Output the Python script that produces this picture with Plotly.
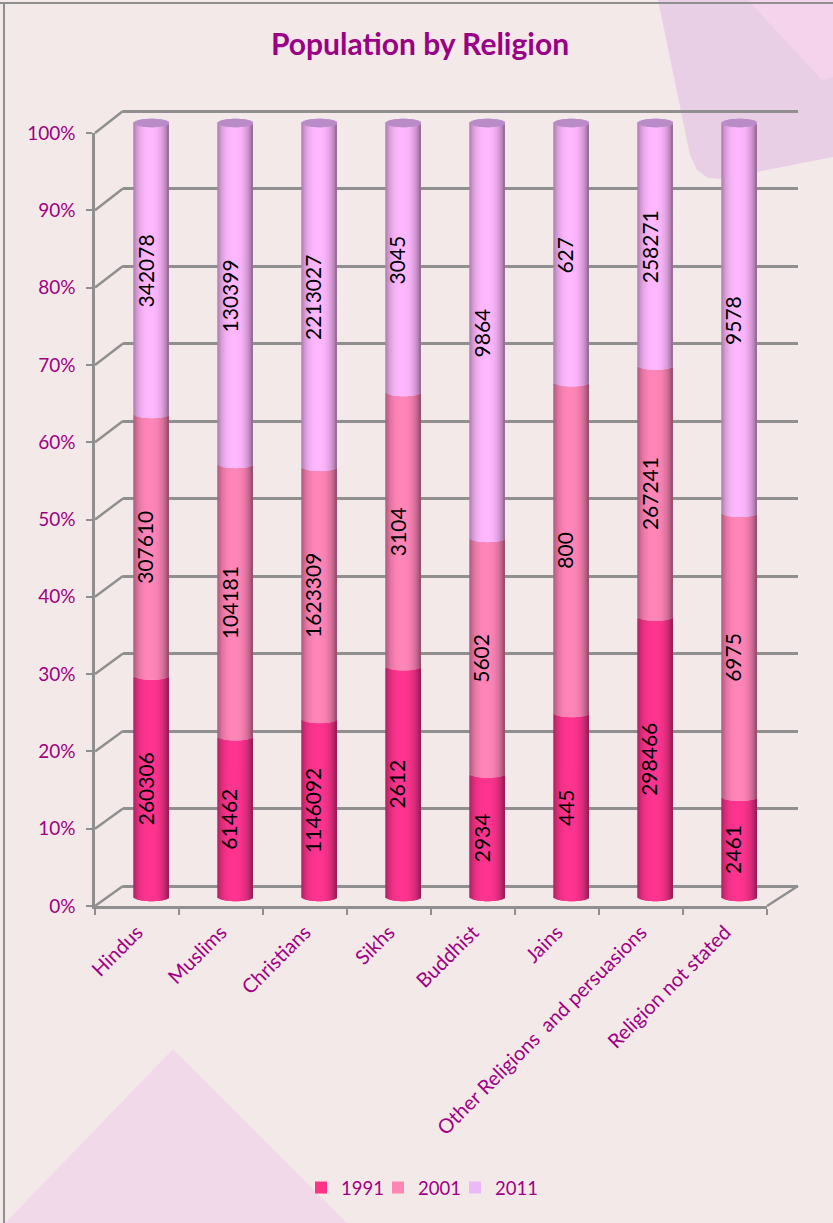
import plotly.graph_objects as go

categories = ["Hindus", "Muslims", "Christians", "Sikhs", "Buddhist", "Jains",
              "Other Religions  and persuasions", "Religion not stated"]
y1991 = [260306, 61462, 1146092, 2612, 2934, 445, 298466, 2461]
y2001 = [307610, 104181, 1623309, 3104, 5602, 800, 267241, 6975]
y2011 = [342078, 130399, 2213027, 3045, 9864, 627, 258271, 9578]
series_names = ["1991", "2001", "2011"]
series = [y1991, y2001, y2011]
legend_colors = ["#FF3385", "#FF85B5", "#EDB8FA"]
center_rgb = [(255, 52, 144), (255, 133, 184), (255, 184, 255)]
cap_color = "#B98CC8"
TEXT = "#A00083"
GRID = "#8F8F8F"
FONT = "Lato"
W, H = 833, 1223

def fx(p): return p / W
def fy(p): return 1 - p / H

fig = go.Figure()
axis_off = dict(visible=False, fixedrange=True)

# ---- back wall (grid lines) : x/y
back_l, back_r, back_0, back_100 = 123, 798, 886, 111
upx = (back_0 - back_100) / 100
fig.add_trace(go.Scatter(x=[0], y=[0], mode="markers", marker=dict(opacity=0), showlegend=False,
                         hoverinfo="skip", xaxis="x", yaxis="y"))
fig.update_layout(
    xaxis=dict(domain=[fx(back_l), fx(back_r)], range=[0, 1], **axis_off),
    yaxis=dict(domain=[fy(back_0 + 2 * upx), fy(back_100 - 2 * upx)], range=[-2, 102], dtick=10, tick0=0,
               showgrid=True, gridcolor=GRID, gridwidth=2.5, zeroline=False, showline=False,
               showticklabels=False, ticks="", fixedrange=True),
)

# ---- front axes with labels : x2/y2
front_l, front_r, front_0, front_100 = 95, 767, 906, 133
fig.add_trace(go.Scatter(x=categories, y=[0] * len(categories), mode="markers", marker=dict(opacity=0),
                         showlegend=False, hoverinfo="skip", xaxis="x2", yaxis="y2"))
fig.update_layout(
    xaxis2=dict(domain=[fx(front_l), fx(front_r)], type="category", categoryorder="array",
                categoryarray=categories, range=[-0.5, 7.5], anchor="y2", tickson="boundaries",
                ticks="outside", ticklen=6, tickcolor=GRID, tickwidth=2, showline=True, linecolor=GRID,
                linewidth=2.5, tickangle=-45, showgrid=False, fixedrange=True, ticklabelstandoff=4,
                tickfont=dict(family=FONT, size=20, color=TEXT)),
    yaxis2=dict(domain=[fy(front_0), fy(front_100)], range=[0, 100], dtick=10, anchor="x2", ticksuffix="%",
                ticks="outside", ticklen=6, tickcolor=GRID, tickwidth=2, showline=True, linecolor=GRID,
                linewidth=2.5, showgrid=False, zeroline=False, fixedrange=True, ticklabelstandoff=7,
                tickfont=dict(family=FONT, size=19, color=TEXT)),
)

# ---- cylinders : x3/y3
bar_shift, bar_0, bar_100 = 14, 897, 123
bpx = (bar_0 - bar_100) / 100
fig.update_layout(
    xaxis3=dict(domain=[fx(front_l + bar_shift), fx(front_r + bar_shift)], range=[-0.5, 7.5], anchor="y3", **axis_off),
    yaxis3=dict(domain=[fy(bar_0 + 3 * bpx), fy(bar_100 - 3 * bpx)], range=[-3, 103], anchor="x3", **axis_off),
)

BAR_W = 0.422
N = 30
E = 4.2 / bpx
step = BAR_W / N
strip_u = [(-1 + (2 * k + 1) / N) for k in range(N)]
sag = [E * (1 - u * u) ** 0.5 for u in strip_u]

def shade(rgb, u):
    f = 1 - 0.38 * abs(u + 0.05) ** 2.6
    return "rgb(%d,%d,%d)" % tuple(round(c * f) for c in rgb)

totals = [sum(t) for t in zip(*series)]
cum = [0.0] * len(categories)
for s_idx, vals in enumerate(series):
    xs, bases, hs, offs, wds, cols = [], [], [], [], [], []
    for c_idx, v in enumerate(vals):
        pct = 100 * v / totals[c_idx]
        for k, u in enumerate(strip_u):
            low = cum[c_idx] - sag[k]
            xs.append(c_idx)
            bases.append(low)
            hs.append(pct)
            offs.append(-BAR_W / 2 + k * step)
            wds.append(step * 2 if k < N - 1 else step)
            cols.append(shade(center_rgb[s_idx], u))
        # rotated value label
        fig.add_annotation(x=c_idx, y=cum[c_idx] + pct / 2, xref="x3", yref="y3", text=str(v), textangle=-90,
                           showarrow=False, xshift=-6, yshift=-3, font=dict(family=FONT, size=21, color="#000000"))
        cum[c_idx] += pct
    fig.add_trace(go.Bar(x=xs, y=hs, base=bases, offset=offs, width=wds, marker=dict(color=cols, line=dict(width=0)),
                         showlegend=False, hoverinfo="skip", xaxis="x3", yaxis="y3"))

# top caps
cx, cb, ch, co, cw = [], [], [], [], []
for c_idx in range(len(categories)):
    for k in range(N):
        cx.append(c_idx)
        cb.append(100 - sag[k])
        ch.append(2 * sag[k])
        co.append(-BAR_W / 2 + k * step)
        cw.append(step * 2 if k < N - 1 else step)
fig.add_trace(go.Bar(x=cx, y=ch, base=cb, offset=co, width=cw, marker=dict(color=cap_color, line=dict(width=0)),
                     showlegend=False, hoverinfo="skip", xaxis="x3", yaxis="y3"))

# legend entries (the blank last entry only keeps the box wide enough for "2011")
for name, col in zip(series_names, legend_colors):
    fig.add_trace(go.Scatter(x=[None], y=[None], mode="markers", name=name,
                             marker=dict(symbol="square", size=12, color=col), xaxis="x3", yaxis="y3"))
fig.add_trace(go.Scatter(x=[None], y=[None], mode="markers", name=" ",
                         marker=dict(symbol="square", size=1, opacity=0), xaxis="x3", yaxis="y3"))

# ---- decoration and depth lines (paper coordinates)
def poly(points, color):
    d = "M " + " L ".join(f"{fx(x):.5f},{fy(y):.5f}" for x, y in points) + " Z"
    return dict(type="path", xref="paper", yref="paper", path=d, fillcolor=color, line=dict(width=0), layer="below")

def seg(x0, y0, x1, y1, width=2.5):
    return dict(type="line", xref="paper", yref="paper", x0=fx(x0), y0=fy(y0), x1=fx(x1), y1=fy(y1),
                line=dict(color=GRID, width=width), layer="below")

shapes = [
    poly([(658, 0), (833, 0), (833, 157), (722, 179), (708, 178), (697, 170), (690, 155)], "#E9CFE6"),
    poly([(748, 0), (833, 0), (833, 77), (822, 80)], "#F6D3EC"),
    poly([(173, 1049), (347, 1223), (5, 1223)], "#F1D9EA"),
    seg(0, 3, 833, 3, 2),
    seg(4, 3, 4, 1223, 2),
]
for g in range(0, 101, 10):
    shapes.append(seg(front_l, front_0 - (front_0 - front_100) * g / 100,
                      back_l, back_0 - (back_0 - back_100) * g / 100))
shapes.append(seg(front_r, front_0, back_r, back_0))

fig.update_layout(
    width=W, height=H, margin=dict(l=0, r=0, t=0, b=0, autoexpand=False), autosize=False,
    paper_bgcolor="#F4E9E9", plot_bgcolor="rgba(0,0,0,0)",
    barmode="overlay", shapes=shapes,
    title=dict(text="<b>Population by Religion</b>", x=420 / W, xanchor="center", y=fy(44), yanchor="middle",
               font=dict(family=FONT, size=30, color="#990085")),
    legend=dict(orientation="h", x=301 / W, xanchor="left", y=fy(1188), yanchor="middle",
                bgcolor="rgba(0,0,0,0)", font=dict(family=FONT, size=18.5, color=TEXT),
                itemwidth=30, entrywidth=32, entrywidthmode="pixels", itemclick=False, itemdoubleclick=False),
)

fig.write_html("out.html", post_script="document.body.style.margin='0';document.body.style.overflow='hidden';",
               config=dict(displayModeBar=False))
